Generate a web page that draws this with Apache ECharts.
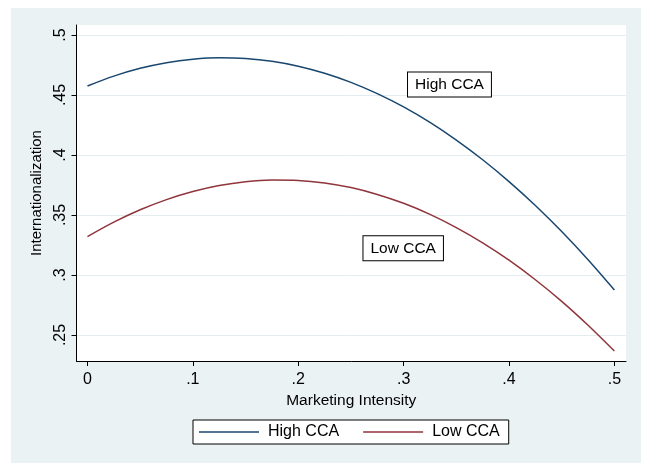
<!DOCTYPE html>
<html>
<head>
<meta charset="utf-8">
<script src="https://cdn.jsdelivr.net/npm/echarts@6/dist/echarts.min.js"></script>
<style>
html,body{margin:0;padding:0;background:#fff;width:653px;height:466px;overflow:hidden}
#c{position:absolute;left:11px;top:8px;width:630px;height:455px}
</style>
</head>
<body>
<div id="c"></div>
<script>
// ---- data ----
const xValues = [0, 0.025, 0.05, 0.075, 0.1, 0.125, 0.15, 0.175, 0.2, 0.225, 0.25,
                 0.275, 0.3, 0.325, 0.35, 0.375, 0.4, 0.425, 0.45, 0.475, 0.5];
const highCCA = [0.4575, 0.4657, 0.4722, 0.4769, 0.4798, 0.4810, 0.4804, 0.4781, 0.4740, 0.4681, 0.4605,
                 0.4511, 0.4400, 0.4271, 0.4124, 0.3960, 0.3778, 0.3579, 0.3362, 0.3127, 0.2875];
const lowCCA  = [0.3320, 0.3440, 0.3543, 0.3628, 0.3695, 0.3745, 0.3777, 0.3791, 0.3788, 0.3767, 0.3728,
                 0.3671, 0.3597, 0.3505, 0.3395, 0.3268, 0.3123, 0.2960, 0.2780, 0.2581, 0.2366];
const seriesNames = ['High CCA', 'Low CCA'];
const xTicks = [0, 0.1, 0.2, 0.3, 0.4, 0.5];
const yTicks = [0.25, 0.3, 0.35, 0.4, 0.45, 0.5];
const xTitle = 'Marketing Intensity';
const yTitle = 'Internationalization';
const boxLabels = ['High CCA', 'Low CCA'];
const boxAnchorX = [0.3435, 0.2996];
const boxAnchorY = [0.4588, 0.3222];

// ---- chart ----
const FONT = "'Liberation Sans', Arial, sans-serif";
const fmt = v => (v === 0 ? '0' : String(v).replace(/^0\./, '.'));
const colors = ['#1a476f', '#90353b'];

const chart = echarts.init(document.getElementById('c'), null, {renderer: 'canvas'});

function boxPoint(i) {
  return {
    coord: [boxAnchorX[i], boxAnchorY[i]],
    symbol: 'rect', symbolSize: 1,
    itemStyle: {color: 'rgba(0,0,0,0)'},
    label: {
      show: true, position: 'inside', formatter: boxLabels[i],
      color: '#000', fontSize: 15.5, fontFamily: FONT,
      backgroundColor: '#fff', borderColor: '#000', borderWidth: 1,
      padding: [4, 7, 4, 7]
    }
  };
}

const option = {
  animation: false,
  backgroundColor: '#eaf2f3',
  textStyle: {fontFamily: FONT},
  grid: {
    left: 65.5, right: 15, top: 17, bottom: 102,
    show: true, backgroundColor: '#fff', borderWidth: 0,
    containLabel: false, outerBoundsMode: 'none'
  },
  legend: {
    data: seriesNames,
    icon: 'rect',
    left: 182, top: 412,
    orient: 'horizontal',
    itemWidth: 60, itemHeight: 1.6, itemGap: 24,
    backgroundColor: '#fff', borderColor: '#000', borderWidth: 1,
    padding: [4, 9, 4, 6],
    textStyle: {fontSize: 16, color: '#000', fontFamily: FONT, padding: [0, 0, 0, 4]}
  },
  xAxis: {
    type: 'value', min: -0.0104, max: 0.511,
    axisLine: {show: true, onZero: false, lineStyle: {color: '#000', width: 1}},
    axisTick: {show: true, length: 5, customValues: xTicks, lineStyle: {color: '#000', width: 1}},
    axisLabel: {show: true, customValues: xTicks, formatter: fmt, color: '#000', fontSize: 16, fontFamily: FONT, margin: 11},
    splitLine: {show: false},
    name: xTitle, nameLocation: 'middle', nameGap: 27,
    nameTextStyle: {color: '#000', fontSize: 15.5, fontFamily: FONT}
  },
  yAxis: {
    type: 'value', min: 0.2283, max: 0.5083,
    axisLine: {show: true, onZero: false, lineStyle: {color: '#000', width: 1}},
    axisTick: {show: true, length: 5, customValues: yTicks, lineStyle: {color: '#000', width: 1}},
    axisLabel: {show: true, customValues: yTicks, formatter: fmt, rotate: 90, color: '#000', fontSize: 16, fontFamily: FONT, margin: 8},
    splitLine: {show: true, lineStyle: {color: '#e3ecee', width: 1}},
    name: yTitle, nameLocation: 'middle', nameGap: 28,
    nameTextStyle: {color: '#000', fontSize: 15, fontFamily: FONT}
  },
  series: [
    {
      name: seriesNames[0], type: 'line', smooth: 0.3, symbol: 'none', showSymbol: false,
      data: xValues.map((x, i) => [x, highCCA[i]]),
      lineStyle: {color: colors[0], width: 1.5}, itemStyle: {color: colors[0]},
      markPoint: {silent: true, data: [boxPoint(0)]}
    },
    {
      name: seriesNames[1], type: 'line', smooth: 0.3, symbol: 'none', showSymbol: false,
      data: xValues.map((x, i) => [x, lowCCA[i]]),
      lineStyle: {color: colors[1], width: 1.5}, itemStyle: {color: colors[1]},
      markPoint: {silent: true, data: [boxPoint(1)]}
    }
  ]
};
chart.setOption(option);
</script>
</body>
</html>
